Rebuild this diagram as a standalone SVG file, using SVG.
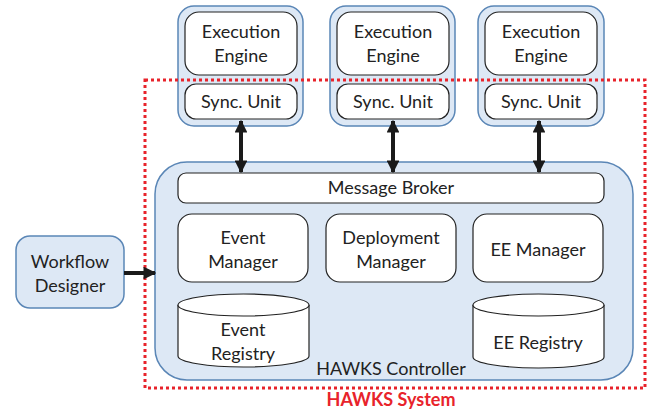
<svg xmlns="http://www.w3.org/2000/svg" width="656" height="410" viewBox="0 0 656 410">
<defs>
<style>
.outer{fill:#dde8f5;stroke:#5a86b6;stroke-width:1.5}
.inner{fill:#fff;stroke:#222;stroke-width:1.2}
.t{font-family:Lato,"Liberation Sans",sans-serif;font-size:18px;fill:#222;text-anchor:middle}
.arr{stroke:#1a1a1a;stroke-width:4;fill:none}
</style>
<marker id="ah" viewBox="0 0 10 10" refX="9" refY="5" markerWidth="3.2" markerHeight="3.2" orient="auto-start-reverse" markerUnits="strokeWidth">
<path d="M0,0 L10,5 L0,10 z" fill="#1a1a1a"/>
</marker>
</defs>
<rect width="656" height="410" fill="#fff"/>

<g id="ee1">
<rect class="outer" x="178" y="6" width="125" height="120" rx="16"/>
<rect class="inner" x="185" y="12" width="112" height="63" rx="14"/>
<text class="t" x="241" y="38">Execution</text>
<text class="t" x="241" y="62">Engine</text>
<rect class="inner" x="185" y="84" width="112" height="35" rx="11"/>
<text class="t" x="241" y="108">Sync. Unit</text>
</g>
<g id="ee2">
<rect class="outer" x="330" y="6" width="125" height="120" rx="16"/>
<rect class="inner" x="337" y="12" width="112" height="63" rx="14"/>
<text class="t" x="393" y="38">Execution</text>
<text class="t" x="393" y="62">Engine</text>
<rect class="inner" x="337" y="84" width="112" height="35" rx="11"/>
<text class="t" x="393" y="108">Sync. Unit</text>
</g>
<g id="ee3">
<rect class="outer" x="478" y="6" width="126" height="120" rx="16"/>
<rect class="inner" x="485" y="12" width="112" height="63" rx="14"/>
<text class="t" x="541" y="38">Execution</text>
<text class="t" x="541" y="62">Engine</text>
<rect class="inner" x="485" y="84" width="112" height="35" rx="11"/>
<text class="t" x="541" y="108">Sync. Unit</text>
</g>

<g id="controller">
<rect class="outer" x="155" y="162" width="478" height="218" rx="32"/>
<text class="t" x="391" y="375">HAWKS Controller</text>
</g>
<g id="broker">
<rect class="inner" x="178" y="173" width="426" height="30" rx="8"/>
<text class="t" x="391" y="194">Message Broker</text>
</g>
<g id="eventmgr">
<rect class="inner" x="178" y="214" width="130" height="68" rx="14"/>
<text class="t" x="243" y="244">Event</text>
<text class="t" x="243" y="268">Manager</text>
</g>
<g id="deploymgr">
<rect class="inner" x="326" y="214" width="130" height="68" rx="14"/>
<text class="t" x="391" y="244">Deployment</text>
<text class="t" x="391" y="268">Manager</text>
</g>
<g id="eemgr">
<rect class="inner" x="473" y="214" width="130" height="68" rx="14"/>
<text class="t" x="538" y="256">EE Manager</text>
</g>
<g id="eventreg">
<path class="inner" d="M178,305 L178,356 A65.5,11 0 0 0 309,356 L309,305 A65.5,11 0 0 0 178,305 Z"/>
<path class="inner" d="M178,305 A65.5,11 0 0 0 309,305" fill="none"/>
<text class="t" x="243" y="336">Event</text>
<text class="t" x="243" y="360">Registry</text>
</g>
<g id="eereg">
<path class="inner" d="M473,305 L473,357 A65.5,11 0 0 0 604,357 L604,305 A65.5,11 0 0 0 473,305 Z"/>
<path class="inner" d="M473,305 A65.5,11 0 0 0 604,305" fill="none"/>
<text class="t" x="538" y="349">EE Registry</text>
</g>

<g id="designer">
<rect class="outer" x="16" y="236" width="108" height="72" rx="14"/>
<text class="t" x="70" y="268">Workflow</text>
<text class="t" x="70" y="292">Designer</text>
</g>

<g id="system">
<rect x="145" y="80" width="500" height="308" fill="none" stroke="#e8232b" stroke-width="3" stroke-dasharray="3 3"/>
<text x="391" y="406" font-family="Lato,'Liberation Sans',sans-serif" font-size="18" font-weight="bold" fill="#e8232b" text-anchor="middle">HAWKS System</text>
</g>

<g id="connectors">
<line class="arr" x1="241" y1="121" x2="241" y2="172" marker-start="url(#ah)" marker-end="url(#ah)"/>
<line class="arr" x1="393" y1="121" x2="393" y2="172" marker-start="url(#ah)" marker-end="url(#ah)"/>
<line class="arr" x1="539" y1="121" x2="539" y2="172" marker-start="url(#ah)" marker-end="url(#ah)"/>
<line class="arr" x1="124" y1="273" x2="155" y2="273" marker-end="url(#ah)"/>
</g>
</svg>
